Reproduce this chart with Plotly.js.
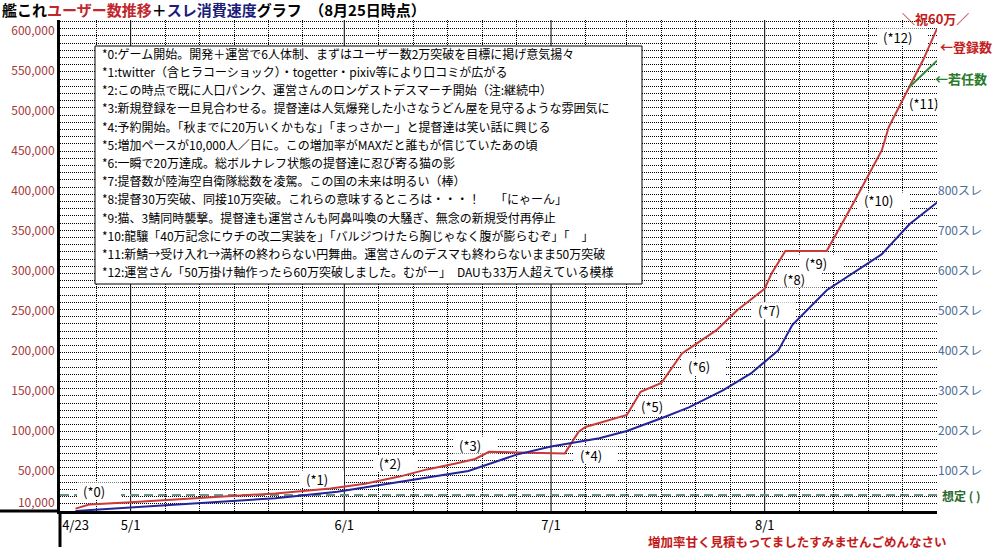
<!DOCTYPE html>
<html><head><meta charset="utf-8">
<script src="https://cdn.plot.ly/plotly-3.0.1.min.js"></script>
<style>html,body{margin:0;padding:0;background:#fff}</style>
</head><body><div id="chart" style="width:995px;height:550px"></div>
<script>
// ---- data ----
const regDates = ['2013-04-23','2013-04-25','2013-05-01','2013-05-12','2013-05-22','2013-05-30','2013-06-04','2013-06-09','2013-06-13','2013-06-17','2013-06-20','2013-06-22','2013-07-03','2013-07-05','2013-07-06','2013-07-12','2013-07-14','2013-07-17','2013-07-20','2013-07-25','2013-07-28','2013-08-01','2013-08-02','2013-08-04','2013-08-10','2013-08-14','2013-08-18','2013-08-19','2013-08-22','2013-08-24','2013-08-26'];
const regUsers = [3000,8000,11000,17000,22000,28000,34000,43000,52000,59000,65000,74000,72000,99000,105000,120000,149000,160000,197000,226000,251000,278000,297000,325000,325000,387000,451000,480000,530000,564000,603000];
const threadDates = ['2013-04-23','2013-05-01','2013-05-12','2013-05-22','2013-05-31','2013-06-10','2013-06-19','2013-06-26','2013-07-01','2013-07-08','2013-07-12','2013-07-17','2013-07-21','2013-07-26','2013-07-30','2013-08-03','2013-08-05','2013-08-10','2013-08-15','2013-08-18','2013-08-19','2013-08-21','2013-08-22','2013-08-26'];
const threads = [0,9,21,32,48,75,100,141,161,182,200,232,259,302,344,402,465,552,607,642,661,698,717,771];
const activeDates = ['2013-08-22','2013-08-24','2013-08-26'];
const activeUsers = [530000,546000,563000];
const TARGET = 20000;

const xTickVals = ['2013-04-23','2013-05-01','2013-06-01','2013-07-01','2013-08-01'];
const xTickText = ['4/23','5/1','6/1','7/1','8/1'];
const monthLines = ['2013-05-01','2013-06-01','2013-07-01','2013-08-01'];
const gridDates = ['2013-04-26','2013-05-06','2013-05-11','2013-05-16','2013-05-21','2013-05-26','2013-06-06','2013-06-11','2013-06-16','2013-06-21','2013-06-26','2013-07-06','2013-07-12','2013-07-17','2013-07-22','2013-07-27','2013-08-06','2013-08-11','2013-08-16','2013-08-21','2013-08-25 23:00'];
const yTickVals = [10000,50000,100000,150000,200000,250000,300000,350000,400000,450000,500000,550000,600000];
const y2TickVals = [100,200,300,400,500,600,700,800];
const y2TickText = ['100スレ','200スレ','300スレ','400スレ','500スレ','600スレ','700スレ','800スレ'];

const notes = [
"*0:ゲーム開始。開発＋運営で6人体制、まずはユーザー数2万突破を目標に掲げ意気揚々",
"*1:twitter（含ヒラコーショック）・togetter・pixiv等により口コミが広がる",
"*2:この時点で既に人口パンク、運営さんのロンゲストデスマーチ開始（注:継続中）",
"*3:新規登録を一旦見合わせる。提督達は人気爆発した小さなうどん屋を見守るような雰囲気に",
"*4:予約開始。「秋までに20万いくかもな」「まっさかー」と提督達は笑い話に興じる",
"*5:増加ペースが10,000人／日に。この増加率がMAXだと誰もが信じていたあの頃",
"*6:一瞬で20万達成。総ボルナレフ状態の提督達に忍び寄る猫の影",
"*7:提督数が陸海空自衛隊総数を凌駕。この国の未来は明るい（棒）",
"*8:提督30万突破、同接10万突破。これらの意味するところは・・・！　 「にゃーん」",
"*9:猫、3鯖同時襲撃。提督達も運営さんも阿鼻叫喚の大騒ぎ、無念の新規受付再停止",
"*10:龍驤「40万記念にウチの改二実装を」「バルジつけたら胸じゃなく腹が膨らむぞ」「　」",
"*11:新鯖→受け入れ→満杯の終わらない円舞曲。運営さんのデスマも終わらないまま50万突破",
"*12:運営さん「50万掛け軸作ったら60万突破しました。むがー」　DAUも33万人超えている模様"
];
const markLabels = ['(*0)','(*1)','(*2)','(*3)','(*4)','(*5)','(*6)','(*7)','(*8)','(*9)','(*10)','(*11)','(*12)'];

// ---- layout helpers (pixel positions -> paper / axis units) ----
const L = 60, T = 20, W = 877, H = 491;
const X_RANGE = ['2013-04-20 18:00', '2013-08-26 00:00'];
const Y_MAX = 613750;
const xStartMs = Date.parse('2013-04-20T18:00:00Z'), xEndMs = Date.parse('2013-08-26T00:00:00Z');
const px = x => (x - L) / W;
const py = y => (T + H - y) / H;
const pxDate = x => xStartMs + px(x) * (xEndMs - xStartMs);
const pyVal = y => py(y) * Y_MAX;
// left edge and vertical centre of each "(*n)" label, in pixels
const markPos = [[82,491],[305,479],[378,463.5],[458,445],[579,455],[640,406.7],[687,366.7],[757,310.7],[782,279],[804,263],[863,201],[908,103],[882,37]];

const FONT = 'Noto Sans CJK JP, Noto Sans, sans-serif';
const RED = '#c93a3a', BLUE = '#24249a', GREEN = '#2f8a3a';

const traces = [
  {x: regDates, y: regUsers, type: 'scatter', mode: 'lines', line: {color: RED, width: 2}, hoverinfo: 'skip'},
  {x: activeDates, y: activeUsers, type: 'scatter', mode: 'lines', line: {color: GREEN, width: 2}, hoverinfo: 'skip'},
  {x: threadDates, y: threads, type: 'scatter', mode: 'lines', yaxis: 'y2', line: {color: BLUE, width: 2}, hoverinfo: 'skip'}
];

const shapes = [];
monthLines.forEach(d => shapes.push({type: 'line', xref: 'x', yref: 'paper', x0: d, x1: d, y0: 0, y1: 1, line: {color: '#000', width: 1}, layer: 'between'}));
shapes.push({type: 'line', xref: 'paper', yref: 'y', x0: 0, x1: 1, y0: TARGET, y1: TARGET, line: {color: '#6f9484', width: 2, dash: '9px,5px'}, layer: 'between'});
markPos.forEach((p, i) => {
  const w = markLabels[i].length > 4 ? 32 : 25;
  shapes.push({type: 'rect', xref: 'x', yref: 'y', x0: pxDate(p[0] - 5), x1: pxDate(Math.min(p[0] + w + 14, L + W - 1)), y0: pyVal(p[1] + 8.5), y1: pyVal(p[1] - 8.5), fillcolor: '#fff', line: {width: 0}, layer: 'between'});
});
shapes.push({type: 'rect', xref: 'paper', yref: 'paper', x0: px(95), x1: px(642), y0: py(284), y1: py(46), fillcolor: '#fff', line: {color: '#000', width: 1}, layer: 'above'});
shapes.push({type: 'line', xref: 'paper', yref: 'paper', x0: 0, x1: 0, y0: py(547), y1: 0, line: {color: '#000', width: 3}});
shapes.push({type: 'line', xref: 'paper', yref: 'paper', x0: px(0), x1: 0, y0: 0, y1: 0, line: {color: '#000', width: 3}});

const annotations = [];
notes.forEach((t, i) => annotations.push({xref: 'paper', yref: 'paper', x: px(100), y: py(53.3 + 18.2 * i), xanchor: 'left', yanchor: 'middle', text: t, showarrow: false, font: {family: FONT, size: 12, color: '#000'}}));
markLabels.forEach((t, i) => annotations.push({xref: 'paper', yref: 'paper', x: px(markPos[i][0]), y: py(markPos[i][1]), xanchor: 'left', yanchor: 'middle', borderpad: 0, text: t, showarrow: false, font: {family: FONT, size: 13, color: '#000'}}));
annotations.push({xref: 'paper', yref: 'paper', x: px(935), y: py(18.3), xanchor: 'center', yanchor: 'middle', text: '<b>＼祝60万／</b>', showarrow: false, font: {family: FONT, size: 13, color: '#c42020'}});
annotations.push({xref: 'paper', yref: 'paper', x: px(938), y: py(46.7), xanchor: 'left', yanchor: 'middle', text: '<b>←登録数</b>', showarrow: false, font: {family: FONT, size: 13, color: '#c42020'}});
annotations.push({xref: 'paper', yref: 'paper', x: px(933), y: py(78.3), xanchor: 'left', yanchor: 'middle', text: '<b>←若任数</b>', showarrow: false, font: {family: FONT, size: 13, color: '#2a7a2a'}});
annotations.push({xref: 'paper', yref: 'paper', x: px(940), y: py(495), xanchor: 'left', yanchor: 'middle', text: '<b>想定 ( )</b>', showarrow: false, font: {family: FONT, size: 12, color: '#2a6a2a'}});
annotations.push({xref: 'paper', yref: 'paper', x: px(796.7), y: py(541), xanchor: 'center', yanchor: 'middle', text: '<b>増加率甘く見積もってましたすみませんごめんなさい</b>', showarrow: false, font: {family: FONT, size: 12.5, color: '#c41a1a'}});

const title = '<b>艦これ<span style="color:#c0282d">ユーザー数推移</span>＋<span style="color:#1c1c7a">スレ消費速度</span>グラフ　（8月25日時点）</b>';

const layout = {
  width: 995, height: 550,
  margin: {l: L, r: 995 - L - W, t: T, b: 550 - T - H},
  paper_bgcolor: '#fff', plot_bgcolor: '#fff',
  showlegend: false,
  font: {family: FONT, size: 12, color: '#000'},
  title: {text: title, xref: 'container', yref: 'container', x: 0.002, xanchor: 'left', y: 1 - 11 / 550, yanchor: 'middle', font: {family: FONT, size: 15, color: '#000'}},
  xaxis: {
    type: 'date', range: X_RANGE, fixedrange: true,
    tickmode: 'array', tickvals: xTickVals, ticktext: xTickText, ticks: '',
    showgrid: false, zeroline: false, showline: true, linecolor: '#000', linewidth: 3,
    tickfont: {family: FONT, size: 13, color: '#000'},
    minor: {tickmode: 'array', tickvals: gridDates, showgrid: true, gridcolor: '#000', gridwidth: 1, griddash: '1px,1px', ticks: ''}
  },
  yaxis: {
    range: [0, Y_MAX], fixedrange: true,
    tickmode: 'array', tickvals: yTickVals, tickformat: ',', ticks: '',
    showgrid: false, zeroline: false, showline: true, linecolor: '#000', linewidth: 3,
    tickfont: {family: FONT, size: 12, color: '#a33a3a'},
    minor: {tick0: 0, dtick: 9000, showgrid: true, gridcolor: '#000', gridwidth: 1, griddash: '1px,1px', ticks: ''}
  },
  yaxis2: {
    overlaying: 'y', side: 'right', range: [0, 1227.5], fixedrange: true,
    tickmode: 'array', tickvals: y2TickVals, ticktext: y2TickText, ticks: '',
    showgrid: false, zeroline: false, showline: false,
    tickfont: {family: FONT, size: 12, color: '#4d6d94'}
  },
  shapes: shapes,
  annotations: annotations
};

Plotly.newPlot('chart', traces, layout, {staticPlot: true, displayModeBar: false});
</script></body></html>
